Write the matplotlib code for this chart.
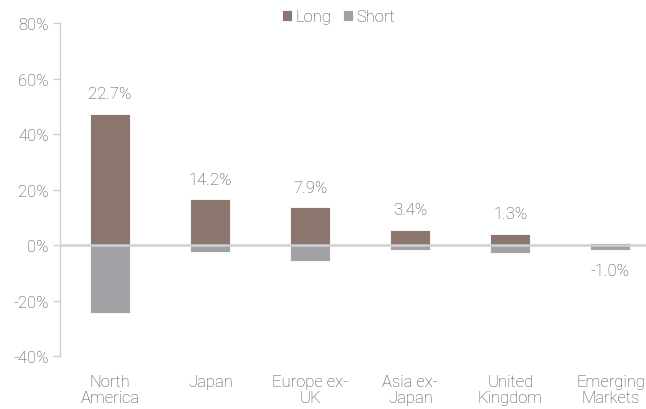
import numpy as np
import matplotlib
matplotlib.use("Agg")
from matplotlib import pyplot as plt

regions = ["North\nAmerica", "Japan", "Europe ex-\nUK", "Asia ex-\nJapan", "United\nKingdom", "Emerging\nMarkets"]
long_pos = [47.3, 16.5, 13.6, 5.4, 4.1, 0.8]
short_pos = [-24.6, -2.3, -5.7, -1.9, -2.8, -1.8]
net_labels = ["22.7%", "14.2%", "7.9%", "3.4%", "1.3%", "-1.0%"]
net_values = [22.7, 14.2, 7.9, 3.4, 1.3, -1.0]

LONG_COLOR = "#8c776f"
SHORT_COLOR = "#a1a1a6"
TEXT_COLOR = "#4a4a4a"
AXIS_COLOR = "#d0d0d0"

plt.rcParams["font.family"] = ["Roboto", "DejaVu Sans"]
plt.rcParams["font.weight"] = "light"

fig = plt.figure(figsize=(6.46, 4.10), dpi=100)
ax = fig.add_axes([0.093, 0.129, 0.917, 0.812])

x = np.arange(len(regions))
ax.bar(x, long_pos, width=0.4, color=LONG_COLOR, edgecolor="white", linewidth=0.6, label="Long", zorder=2)
ax.bar(x, short_pos, width=0.4, color=SHORT_COLOR, edgecolor="white", linewidth=0.6, label="Short", zorder=2)
ax.axhline(0, color=AXIS_COLOR, linewidth=1.8, zorder=3)

# net labels above long bar, or below short bar when net is negative
for xi, lv, sv, lab, nv in zip(x, long_pos, short_pos, net_labels, net_values):
    if nv >= 0:
        ax.text(xi, lv + 7.3, lab, ha="center", va="center", fontsize=12, color=TEXT_COLOR)
    else:
        ax.text(xi, sv - 7.3, lab, ha="center", va="center", fontsize=12, color=TEXT_COLOR)

ax.set_ylim(-40, 80)
ax.set_xlim(-0.5, 5.42)
ax.set_yticks(np.arange(-40, 81, 20))
ax.set_yticklabels([f"{v}%" for v in range(-40, 81, 20)])
ax.set_xticks(x)
ax.set_xticklabels(regions, linespacing=1.1)

for s in ["top", "right", "bottom"]:
    ax.spines[s].set_visible(False)
ax.spines["left"].set_color(AXIS_COLOR)
ax.spines["left"].set_linewidth(1.0)
ax.tick_params(axis="y", colors=AXIS_COLOR, labelcolor=TEXT_COLOR, labelsize=12, length=5, width=1.0, pad=3)
ax.tick_params(axis="x", length=0, labelcolor=TEXT_COLOR, labelsize=12, pad=13)

ax.legend(loc="upper center", bbox_to_anchor=(0.47, 1.087), ncol=2, frameon=False,
          fontsize=12, labelcolor=TEXT_COLOR, handlelength=0.6, handleheight=0.6,
          handletextpad=0.2, columnspacing=0.7)

fig.savefig("out.png", dpi=100)
